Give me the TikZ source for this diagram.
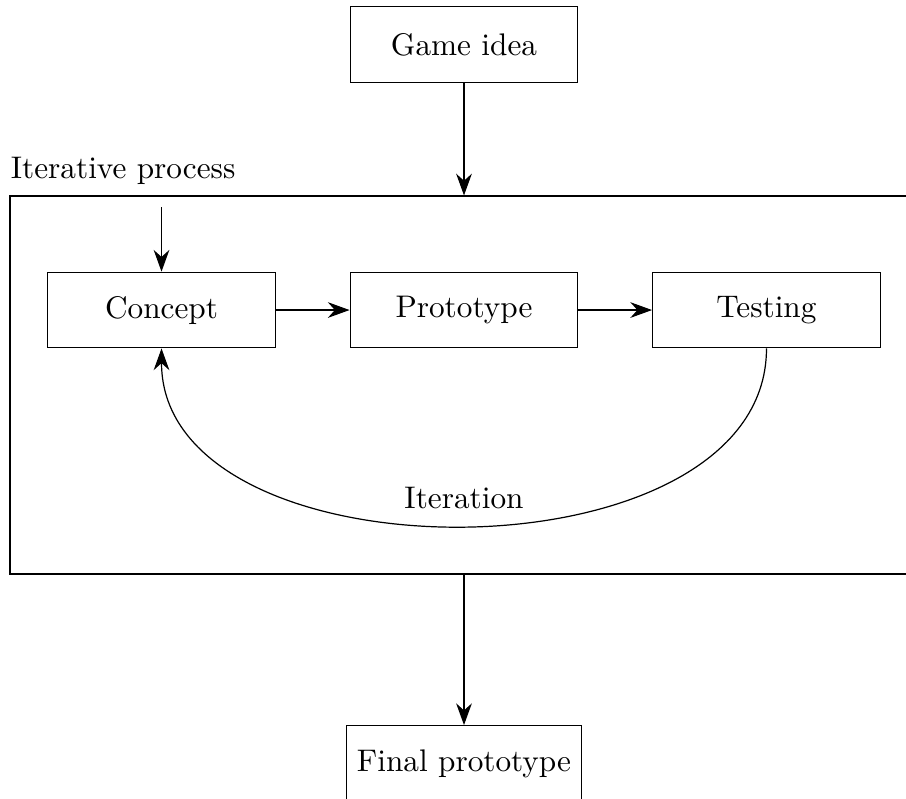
\documentclass[tikz,border=0pt]{standalone}
\usepackage{tikz}
\usetikzlibrary{arrows.meta}

\begin{document}
\begin{tikzpicture}[
		font=\fontsize{10.35pt}{12.4pt}\selectfont,
		stage/.style={draw, minimum width=2.65cm, minimum height=0.88cm},
		flow/.style={-{Stealth[length=7.2pt, width=5.2pt]}}
	]
			%%%%% START %%%%%
			
			\useasboundingbox (0, 0) rectangle (10.546, 9.289);
			\clip (0, 0) rectangle (10.546, 9.289);
			
			\node[stage] (idea) at (5.401, 8.771) {Game idea};
			
			\node[draw, minimum width=10.569cm, minimum height=4.4cm] (loop) at (5.401, 4.807) {};
			\node[anchor=south west, inner xsep=0.3pt] (looplabel) at (loop.north west) {Iterative process};
			\coordinate (loopin) at (1.880, 6.879);
			
			\node[stage] (concept) at (1.880, 5.680) {Concept};
			\node[stage] (proto) at (5.401, 5.680) {Prototype};
			\node[stage] (test) at (8.922, 5.680) {Testing};
			
			\node[stage, minimum width=0pt] (final) at (5.401, 0.402) {Final prototype};
			
			\draw[flow] (idea) -- (loop.north);
			\draw[flow] (loopin) -- (concept);
			\draw[flow] (concept) -- (proto);
			\draw[flow] (proto) -- (test);
			\draw[flow] (test.south) to[out=-90, in=-90] node[above=2pt] (iterlabel) {Iteration} (concept.south);
			\draw[flow] (loop.south) -- (final);
			
			%%%%% END %%%%%
\end{tikzpicture}
\end{document}
